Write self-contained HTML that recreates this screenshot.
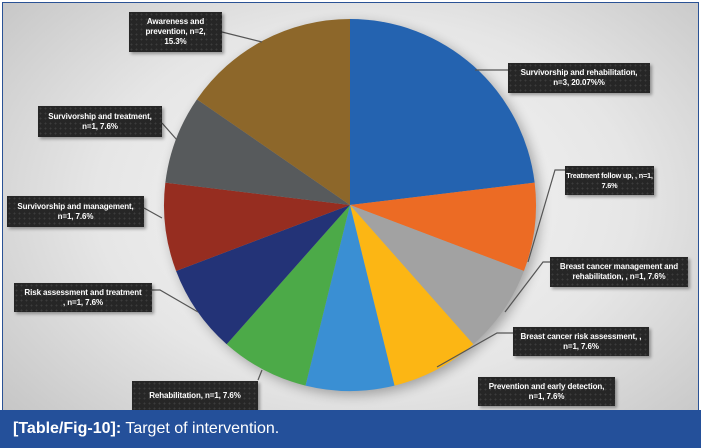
<!DOCTYPE html>
<html><head><meta charset="utf-8"><style>
html,body{margin:0;padding:0;}
body{width:701px;height:448px;overflow:hidden;background:#fff;font-family:"Liberation Sans",sans-serif;position:relative;}
#frame{position:absolute;left:2px;top:2px;width:695px;height:442px;border:1px solid #2a5295;background:radial-gradient(ellipse 70% 75% at 52% 45%,#f7f7f7 0%,#e6e6e6 55%,#c4c4c4 100%);overflow:hidden;}
svg{position:absolute;left:0;top:0;}
.lb{position:absolute;background:#262626;background-image:radial-gradient(#3c3c3c 0.8px,transparent 1px);background-size:5px 5px;color:#fff;font-weight:bold;font-size:8px;line-height:10px;letter-spacing:-0.1px;white-space:nowrap;text-align:center;display:flex;align-items:center;justify-content:center;box-shadow:2px 2px 3px rgba(0,0,0,.35);}
#cap{position:absolute;left:0;top:410px;width:701px;height:38px;background:#24509a;color:#fff;font-size:16px;line-height:38px;padding-left:13px;box-sizing:border-box;}
</style></head><body>
<div id="frame"></div>
<svg width="701" height="448" id="s">
<defs><filter id="sh" x="-20%" y="-20%" width="140%" height="140%"><feGaussianBlur stdDeviation="6"/></filter></defs>
<circle cx="354" cy="209" r="186" fill="#000" opacity="0.3" filter="url(#sh)"/>
<g id="pie"></g>
<g stroke="#555" stroke-width="1.2" fill="none">
<polyline points="222,32 262,42"/>
<polyline points="508,70 475,70"/>
<polyline points="565,170 555,170 528,262"/>
<polyline points="550,262 543,262 505,312"/>
<polyline points="513,333 497,333 437,367"/>
<polyline points="152,290 160,290 198,312"/>
<polyline points="258,380 262,370"/>
<polyline points="144,208 162,218"/>
<polyline points="162,123 177,140"/>
</g>
</svg>
<div class="lb" style="left:129px;top:12px;width:93px;height:40px;">Awareness and<br>prevention, n=2,<br>15.3%</div>
<div class="lb" style="left:508px;top:63px;width:142px;height:30px;">Survivorship and rehabilitation,<br>n=3, 20.07%%</div>
<div class="lb" style="left:565px;top:166px;width:89px;height:29px;font-size:7.3px;letter-spacing:-0.2px;">Treatment follow up, , n=1,<br>7.6%</div>
<div class="lb" style="left:550px;top:257px;width:138px;height:30px;">Breast cancer management and<br>rehabilitation, , n=1, 7.6%</div>
<div class="lb" style="left:513px;top:327px;width:136px;height:29px;">Breast cancer risk assessment, ,<br>n=1, 7.6%</div>
<div class="lb" style="left:478px;top:377px;width:137px;height:29px;">Prevention and early detection,<br>n=1, 7.6%</div>
<div class="lb" style="left:132px;top:381px;width:126px;height:29px;">Rehabilitation, n=1, 7.6%</div>
<div class="lb" style="left:14px;top:283px;width:138px;height:29px;">Risk assessment and treatment<br>, n=1, 7.6%</div>
<div class="lb" style="left:7px;top:196px;width:137px;height:31px;">Survivorship and management,<br>n=1, 7.6%</div>
<div class="lb" style="left:38px;top:106px;width:124px;height:31px;">Survivorship and treatment,<br>n=1, 7.6%</div>
<div id="cap"><b>[Table/Fig-10]:</b> Target of intervention.</div>
<script>
var cx=350,cy=205,r=186;
var sl=[[3,"#2463b0"],[1,"#ec6b24"],[1,"#a2a2a2"],[1,"#fcb614"],[1,"#3a8fd3"],[1,"#4caa48"],[1,"#233377"],[1,"#962d20"],[1,"#575a5c"],[2,"#8d672a"]];
var a=0,g=document.getElementById("pie"),h="";
function pt(t){var rad=t*Math.PI/180;return (cx+r*Math.sin(rad)).toFixed(2)+","+(cy-r*Math.cos(rad)).toFixed(2);}
sl.forEach(function(s){var b=a+s[0]*360/13;h+='<path d="M'+cx+','+cy+' L'+pt(a)+' A'+r+','+r+' 0 '+((b-a)>180?1:0)+',1 '+pt(b)+' Z" fill="'+s[1]+'"/>';a=b;});
g.innerHTML=h;
</script>
</body></html>
